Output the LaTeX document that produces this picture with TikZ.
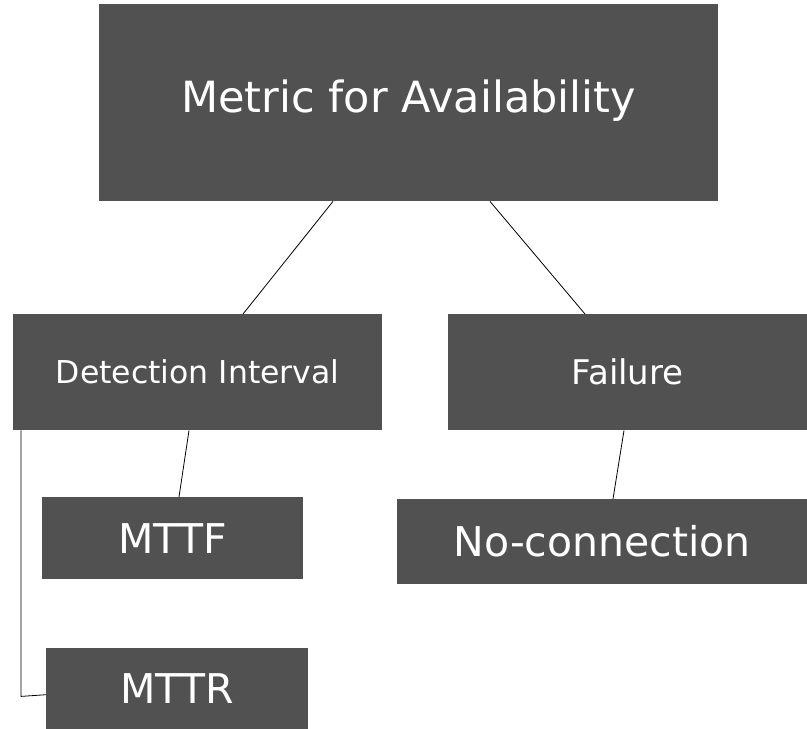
\documentclass[tikz,border=0pt]{standalone}
\usepackage{fontspec}
\setmainfont{DejaVu Sans}
\definecolor{boxgray}{HTML}{515151}
\tikzset{
  greybox/.style={fill=boxgray, draw=none, text=white, inner sep=0pt, anchor=north west},
  link/.style={draw=black, line width=0.8pt}
}
\newcommand{\fsz}[1]{\fontsize{#1}{#1}\selectfont}
\begin{document}
\begin{tikzpicture}[x=1pt,y=-1pt]
\useasboundingbox (0,0) rectangle (807,729);
% boxes
\node[greybox, minimum width=619pt, minimum height=197pt] (top) at (99,4) {};
\node[text=white] at (top.center) [yshift=2pt] {\fsz{43}Metric for Availability};
\node[greybox, minimum width=369pt, minimum height=116pt] (det) at (13,314) {};
\node[text=white] at (det.center) {\fsz{31.5}Detection Interval};
\node[greybox, minimum width=359pt, minimum height=116pt] (fail) at (448,314) {};
\node[text=white] at (fail.center) {\fsz{34}Failure};
\node[greybox, minimum width=261pt, minimum height=82pt] (mttf) at (42,497) {};
\node[text=white] at (mttf.center) {\fsz{41}MTTF};
\node[greybox, minimum width=410pt, minimum height=85pt] (noc) at (397,499) {};
\node[text=white] at (noc.center) {\fsz{41}No-connection};
\node[greybox, minimum width=262pt, minimum height=81pt] (mttr) at (46,648) {};
\node[text=white] at (mttr.center) {\fsz{41}MTTR};
% connectors
\draw[link] ([xshift=234pt]top.south west) -- ([xshift=230pt]det.north west);
\draw[link] ([xshift=391pt]top.south west) -- ([xshift=137pt]fail.north west);
\draw[link] ([xshift=176pt]det.south west) -- ([xshift=137pt]mttf.north west);
\draw[link] ([xshift=176pt]fail.south west) -- ([xshift=216pt]noc.north west);
\draw[link] ([xshift=8pt]det.south west) -- ++(0,266) -- ([yshift=-6pt]mttr.west);
\end{tikzpicture}
\end{document}
